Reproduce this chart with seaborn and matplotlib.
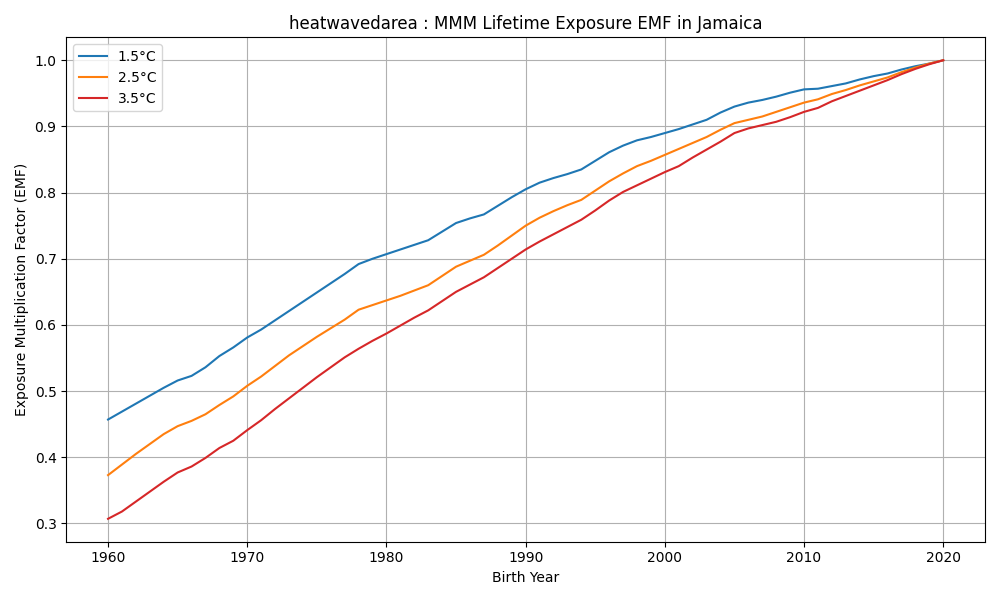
import numpy as np
import pandas as pd
import matplotlib
matplotlib.use("Agg")
import matplotlib.pyplot as plt
import seaborn as sns

years = list(range(1960, 2021))

emf_15 = [0.457, 0.469, 0.481, 0.493, 0.505, 0.516, 0.523, 0.536, 0.553, 0.566,
          0.581, 0.593, 0.607, 0.621, 0.635, 0.649, 0.663, 0.677, 0.692, 0.700,
          0.707, 0.714, 0.721, 0.728, 0.741, 0.754, 0.761, 0.767, 0.780, 0.793,
          0.805, 0.815, 0.822, 0.828, 0.835, 0.848, 0.861, 0.871, 0.879, 0.884,
          0.890, 0.896, 0.903, 0.910, 0.921, 0.930, 0.936, 0.940, 0.945, 0.951,
          0.956, 0.957, 0.961, 0.965, 0.971, 0.976, 0.980, 0.986, 0.991, 0.995,
          1.000]
emf_25 = [0.373, 0.389, 0.405, 0.420, 0.435, 0.447, 0.455, 0.465, 0.479, 0.492,
          0.508, 0.522, 0.538, 0.554, 0.568, 0.582, 0.595, 0.608, 0.623, 0.630,
          0.637, 0.644, 0.652, 0.660, 0.674, 0.688, 0.697, 0.706, 0.720, 0.735,
          0.750, 0.762, 0.772, 0.781, 0.789, 0.803, 0.817, 0.829, 0.840, 0.848,
          0.857, 0.866, 0.875, 0.884, 0.895, 0.905, 0.910, 0.915, 0.922, 0.929,
          0.936, 0.941, 0.949, 0.955, 0.962, 0.968, 0.974, 0.982, 0.989, 0.995,
          1.000]
emf_35 = [0.307, 0.318, 0.333, 0.348, 0.363, 0.377, 0.386, 0.399, 0.414, 0.425,
          0.441, 0.456, 0.473, 0.489, 0.505, 0.521, 0.536, 0.551, 0.564, 0.576,
          0.587, 0.599, 0.611, 0.622, 0.636, 0.650, 0.661, 0.672, 0.686, 0.700,
          0.714, 0.726, 0.737, 0.748, 0.759, 0.773, 0.788, 0.801, 0.811, 0.821,
          0.831, 0.840, 0.853, 0.865, 0.877, 0.890, 0.897, 0.902, 0.907, 0.914,
          0.922, 0.928, 0.938, 0.946, 0.954, 0.962, 0.970, 0.979, 0.987, 0.994,
          1.000]

scenarios = ["1.5°C", "2.5°C", "3.5°C"]
colors = ["#1f77b4", "#ff7f0e", "#d62728"]

# long format for seaborn
df = pd.concat([
    pd.DataFrame({"year": years, "emf": vals, "scenario": s})
    for s, vals in zip(scenarios, [emf_15, emf_25, emf_35])
], ignore_index=True)

fig, ax = plt.subplots(figsize=(10, 6), dpi=100)
sns.lineplot(data=df, x="year", y="emf", hue="scenario",
             palette=dict(zip(scenarios, colors)), linewidth=1.5, ax=ax)

ax.set_title("heatwavedarea : MMM Lifetime Exposure EMF in Jamaica")
ax.set_xlabel("Birth Year")
ax.set_ylabel("Exposure Multiplication Factor (EMF)")
ax.grid(True, color="#b0b0b0", linewidth=0.8)
ax.legend(title=None, loc="upper left")

plt.tight_layout()
plt.savefig("out.png")
